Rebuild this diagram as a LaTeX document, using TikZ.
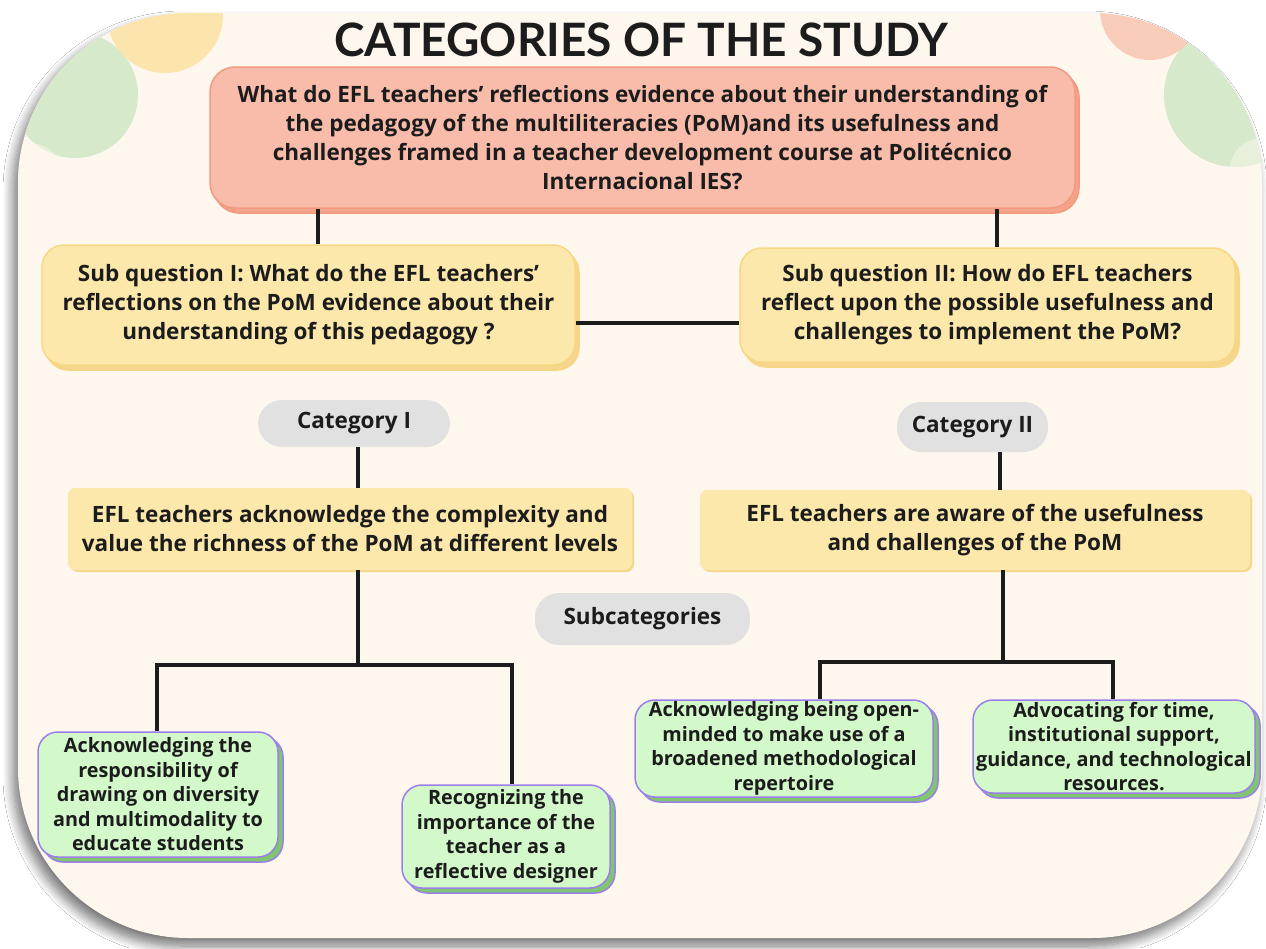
\documentclass[tikz,border=0pt]{standalone}
\usepackage{fontspec}
\setmainfont{Open Sans}
\newfontfamily\headingfamily{Lato}
\usetikzlibrary{shadows,shadows.blur}

\definecolor{paper}{HTML}{FEF7EE}
\definecolor{ink}{HTML}{1C1C1C}
\definecolor{salmonfill}{HTML}{F9BCAA}
\definecolor{salmonline}{HTML}{F29A80}
\definecolor{salmonshade}{HTML}{F4A48B}
\definecolor{yellowfill}{HTML}{FDE8AC}
\definecolor{yellowline}{HTML}{F6D783}
\definecolor{yellowshade}{HTML}{F5D68C}
\definecolor{pillgrey}{HTML}{E1E1E1}
\definecolor{greenfill}{HTML}{D3F8CA}
\definecolor{greenshade}{HTML}{80C56F}
\definecolor{purpleline}{HTML}{9C7FEA}
\definecolor{dotyellow}{HTML}{FBE3A2}
\definecolor{dotgreen}{HTML}{D6EACB}
\definecolor{dotsalmon}{HTML}{F9C4B0}

\newcommand{\bodyfont}{\fontsize{22.5}{29}\selectfont\bfseries}
\newcommand{\leaffont}{\fontsize{19.8}{24.5}\selectfont\bfseries}

\begin{document}
\begin{tikzpicture}[x=1pt,y=-1pt,
  every node/.style={text=ink, align=center, inner sep=0pt},
  conn/.style={draw=ink, line width=3.4pt},
  frame/.style={rounded corners=170pt},
  mainbox/.style={fill=salmonfill, draw=salmonline, line width=1.5pt, rounded corners=25pt,
    general shadow={shadow xshift=4pt, shadow yshift=-5pt, fill=salmonshade, draw=salmonline},
    font=\bodyfont},
  qbox/.style={fill=yellowfill, draw=yellowline, line width=1.5pt, rounded corners=22pt,
    general shadow={shadow xshift=4pt, shadow yshift=-5pt, fill=yellowshade, draw=yellowline},
    font=\bodyfont},
  catbox/.style={fill=yellowfill, draw=yellowfill, rounded corners=8pt,
    general shadow={shadow xshift=2pt, shadow yshift=-2pt, fill=yellowshade},
    font=\bodyfont},
  pill/.style={fill=pillgrey, rounded corners=24pt, font=\bodyfont},
  leaf/.style={fill=greenfill, draw=purpleline, line width=1.5pt, rounded corners=20pt,
    general shadow={shadow xshift=5pt, shadow yshift=-5pt, fill=greenshade, draw=purpleline},
    font=\leaffont},
  heading/.style={font=\headingfamily\fontsize{46}{52}\selectfont\bfseries}
]
\useasboundingbox (0,0) rectangle (1266,948);
\fill[white] (0,0) rectangle (1266,948);

% card with its soft shadow
\path[frame, fill=paper,
  blur shadow={shadow xshift=-5pt, shadow yshift=-8pt, shadow blur radius=10pt,
    shadow blur steps=12, shadow opacity=55}]
  (18,13) rectangle (1262,938);

% decorative dots in the upper corners
\begin{scope}
  \clip[frame] (18,13) rectangle (1262,938);
  \fill[dotgreen] (75,95) circle[radius=63];
  \fill[dotyellow, opacity=.85] (165,15) circle[radius=58];
  \fill[paper, opacity=.45] (30,175) circle[radius=32];
  \fill[dotgreen] (1236,95) circle[radius=72];
  \fill[dotsalmon, opacity=.85] (1150,10) circle[radius=50];
  \fill[paper, opacity=.45] (1262,170) circle[radius=32];
\end{scope}

\node[heading] (ttl) at (641,40) {CATEGORIES OF THE STUDY};

\node[mainbox, minimum width=865pt, minimum height=141pt] (main) at (642.5,137.5)
  {What do EFL teachers’ reflections evidence about their understanding of\\
   the pedagogy of the multiliteracies (PoM)and its usefulness and\\
   challenges framed in a teacher development course at Politécnico\\
   Internacional IES?};

\node[qbox, minimum width=533pt, minimum height=120pt] (sq1) at (308.5,305)
  {Sub question I: What do the EFL teachers’\\
   reflections on the PoM evidence about their\\
   understanding of this pedagogy ?};

\node[qbox, minimum width=495pt, minimum height=114pt] (sq2) at (987.5,305)
  {Sub question II: How do EFL teachers\\
   reflect upon the possible usefulness and\\
   challenges to implement the PoM?};

\node[pill, minimum width=192pt, minimum height=47pt] (cat1) at (354,423.5) {Category I};
\node[pill, minimum width=151pt, minimum height=50pt] (cat2) at (972.5,427) {Category II};

\node[catbox, minimum width=564pt, minimum height=82pt] (c1box) at (350,529)
  {EFL teachers acknowledge the complexity and\\
   value the richness of the PoM at different levels};

\node[catbox, minimum width=550pt, minimum height=80pt] (c2box) at (975,530)
  {EFL teachers are aware of the usefulness\\
   and challenges of the PoM};

\node[pill, minimum width=215pt, minimum height=52pt] (subc) at (642.5,619) {Subcategories};

\node[leaf, minimum width=240pt, minimum height=125pt] (g1) at (158,794.5)
  {Acknowledging the\\ responsibility of\\ drawing on diversity\\ and multimodality to\\ educate students};
\node[leaf, minimum width=208pt, minimum height=103pt] (g2) at (506,836.5)
  {Recognizing the\\ importance of the\\ teacher as a\\ reflective designer};
\node[leaf, minimum width=298pt, minimum height=97pt] (g3) at (784,748.5)
  {Acknowledging being open-\\ minded to make use of a\\ broadened methodological\\ repertoire};
\node[leaf, minimum width=282pt, minimum height=93pt] (g4) at (1114,746.5)
  {Advocating for time,\\ institutional support,\\ guidance, and technological\\ resources.};

% connectors
\coordinate (k1) at (318,0);
\coordinate (k2) at (997,0);
\coordinate (hq) at (0,323);
\coordinate (k3) at (358,0);
\coordinate (k4) at (1000,0);
\coordinate (j1) at (358,665);
\coordinate (j2) at (1003,662);
\coordinate (l1) at (157,0);
\coordinate (l2) at (512,0);
\coordinate (l3) at (820,0);
\coordinate (l4) at (1113,0);

\draw[conn] (main.south -| k1) -- (sq1.north -| k1);
\draw[conn] (main.south -| k2) -- (sq2.north -| k2);
\draw[conn] (sq1.east |- hq) -- (sq2.west |- hq);
\draw[conn] (cat1.south -| k3) -- (c1box.north -| k3);
\draw[conn] (cat2.south -| k4) -- (c2box.north -| k4);
\draw[conn] (c1box.south -| j1) -- (j1);
\draw[conn] (g1.north -| l1) |- (j1) -| (g2.north -| l2);
\draw[conn] (c2box.south -| j2) -- (j2);
\draw[conn] (g3.north -| l3) |- (j2) -| (g4.north -| l4);
\end{tikzpicture}
\end{document}
